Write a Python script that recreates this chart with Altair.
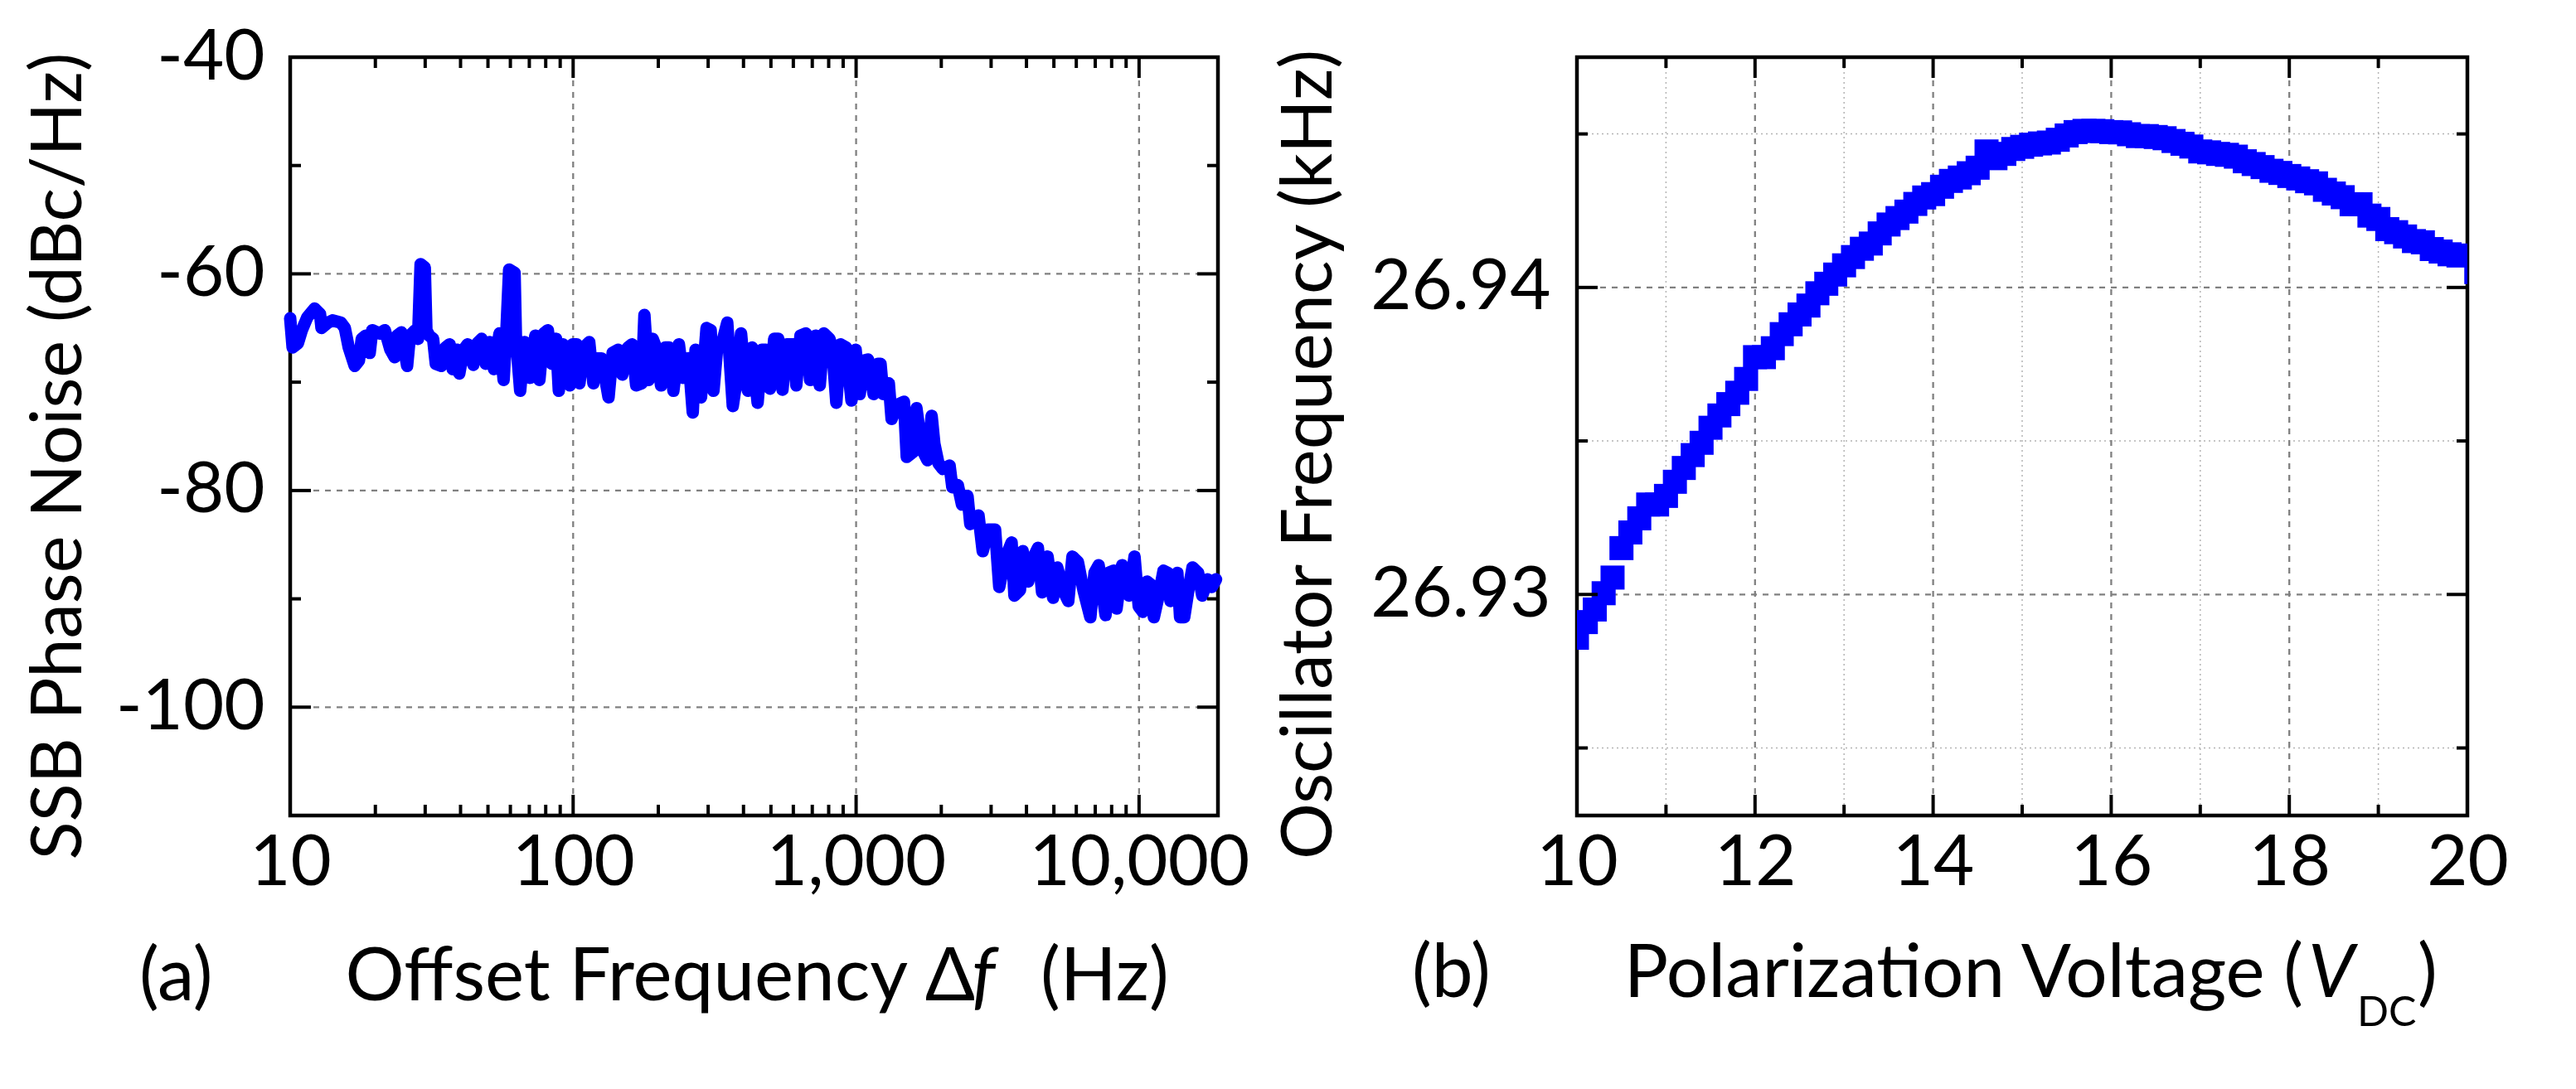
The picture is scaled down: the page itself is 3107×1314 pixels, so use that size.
import pandas as pd
import altair as alt

# (a) phase noise trace
freq_hz = [
    10.0, 10.2, 10.65, 11.0, 11.5, 12.2, 12.75, 12.9, 13.6, 14.1, 15.1, 15.6, 16.1, 16.9, 17.5,
    17.9, 18.5, 19.1, 19.5, 20.7, 21.6, 22.6, 23.4, 23.9, 24.7, 25.9, 26.5, 27.7, 28.3, 28.9,
    29.9, 30.3, 31.0, 32.0, 32.7, 34.2, 35.4, 36.6, 37.5, 38.8, 39.6, 41.0, 42.4, 44.4, 45.9,
    47.5, 49.1, 50.8, 52.5, 54.9, 56.8, 58.1, 59.4, 62.1, 62.8, 65.0, 67.2, 70.3, 73.5, 76.0,
    78.7, 81.4, 84.1, 87.0, 89.0, 92.0, 94.1, 97.4, 99.6, 103.0, 105.3, 109.0, 114.0, 117.9,
    120.5, 126.1,
    133.4, 137.9, 144.3, 149.2, 156.1, 161.5, 167.0, 174.7, 178.6, 184.8, 191.1, 197.6, 204.4,
    211.4, 218.6, 226.1, 236.5, 244.6, 255.9, 264.7, 270.7, 283.1, 296.1, 306.3, 313.3, 324.0,
    335.1, 350.5, 366.6, 379.2, 392.2, 405.6, 414.8, 429.0, 448.7, 464.1, 480.1, 496.5, 513.5,
    531.2, 549.4, 568.2, 600.9, 614.6, 635.7, 664.9, 687.7, 719.3, 743.9, 769.5, 804.9, 823.2,
    851.4, 880.5, 920.9, 963.3, 996.3, 1030, 1066, 1102, 1153, 1193, 1220, 1247, 1290,
    1305, 1335, 1396, 1476, 1510, 1597, 1634, 1709, 1788, 1849, 1891, 1955, 2023, 2140, 2188,
    2288, 2367, 2476, 2532, 2708, 2802, 2931, 3099, 3205, 3352, 3545, 3626, 3794, 3880, 4059,
    4246, 4391, 4542, 4750, 4968, 5138, 5435, 5622, 5814, 6081, 6360, 6504, 6729, 6959, 7198,
    7613, 7786, 8144, 8329, 8711, 8910, 9215, 9638, 9970, 10311, 10665, 11030, 11280, 11800,
    12200, 12620, 12910, 13660, 13960, 14440, 14940, 15450, 16170, 16720, 17480, 18080, 18710,
]
noise_dbc = [
    -64.1, -66.8, -66.4, -65.2, -64.0, -63.2, -63.7, -65.0, -64.5, -64.3, -64.5, -65.0, -66.8,
    -68.5, -68.0, -66.0, -65.7, -67.3, -65.2, -65.5, -65.2, -67.0, -67.7, -65.7, -65.4, -68.5,
    -65.7, -65.2, -66.0, -59.1, -59.4, -65.2, -65.7, -66.0, -68.3, -68.5, -66.8, -66.5, -68.8,
    -67.0, -69.2, -67.0, -66.5, -68.4, -66.4, -66.0, -68.3, -66.3, -68.8, -65.5, -69.8, -65.2,
    -59.6, -59.9, -66.0, -70.8, -66.3, -69.6, -65.7, -69.8, -65.5, -65.2, -68.3, -66.0, -70.8,
    -66.5, -66.8, -70.3, -66.5, -66.5, -70.1, -66.8, -66.3, -70.1, -67.8, -67.8,
    -71.4, -67.3, -67.0, -69.3, -66.8, -66.5, -70.3, -70.1, -63.8, -69.8, -66.0, -67.0, -70.3,
    -66.8, -66.8, -70.8, -66.5, -69.6, -67.8, -72.8, -67.0, -71.4, -65.0, -65.2, -70.8, -66.4,
    -66.5, -64.5, -72.2, -69.6, -65.5, -69.8, -70.8, -66.8, -71.9, -67.0, -67.0, -70.6, -66.0,
    -66.0, -70.7, -66.5, -66.5, -70.3, -65.7, -65.5, -69.8, -65.7, -70.3, -65.5, -66.0, -66.8,
    -71.9, -66.5, -66.8, -71.7, -67.0, -71.1, -68.0, -67.9, -71.1, -68.3, -68.3, -71.1, -70.3,
    -70.1, -73.4, -72.1, -71.8, -76.9, -76.4, -72.4, -76.2, -77.2, -73.1, -75.7, -77.5, -78.0,
    -77.7, -79.7, -79.5, -81.3, -80.5, -83.1, -82.3, -85.6, -83.6, -83.6, -88.9, -86.4, -84.8,
    -89.7, -89.2, -85.6, -88.4, -86.1, -85.3, -89.4, -86.1, -89.9, -87.1, -89.4, -90.2, -86.1,
    -86.6, -89.2, -90.2, -91.7, -87.6, -86.9, -91.5, -87.6, -87.4, -90.9, -86.9, -89.2, -89.7,
    -86.1, -90.7, -91.2, -88.4, -88.7, -91.7, -89.4, -87.4, -87.6, -90.2, -87.6, -91.7, -91.7,
    -89.2, -87.1, -87.6, -89.7, -88.2, -88.9, -88.2,
]

# (b) oscillator frequency vs polarization voltage
volt_dc = [
    10.0, 10.1, 10.2, 10.3, 10.4, 10.5, 10.6, 10.7, 10.8, 10.9, 11.0, 11.1, 11.2, 11.3, 11.4,
    11.5, 11.6, 11.7, 11.8, 11.9, 12.0, 12.1, 12.2, 12.3, 12.4, 12.5, 12.6, 12.7, 12.8, 12.9,
    13.0, 13.1, 13.2, 13.3, 13.4, 13.5, 13.6, 13.7, 13.8, 13.9, 14.0, 14.1, 14.2, 14.3, 14.4,
    14.5, 14.6, 14.7, 14.8, 14.9, 15.0, 15.1, 15.2, 15.3, 15.4, 15.5, 15.6, 15.7, 15.8, 15.9,
    16.0, 16.1, 16.2, 16.3, 16.4, 16.5, 16.6, 16.7, 16.8, 16.9, 17.0, 17.1, 17.2, 17.3, 17.4,
    17.5, 17.6, 17.7, 17.8, 17.9, 18.0, 18.1, 18.2, 18.3, 18.4, 18.5, 18.6, 18.7, 18.8, 18.9,
    19.0, 19.1, 19.2, 19.3, 19.4, 19.5, 19.6, 19.7, 19.8, 19.9, 20.1,
]
osc_khz = [
    26.92859, 26.92910, 26.92951, 26.93004, 26.93055, 26.93151, 26.93202, 26.93248, 26.93293,
    26.93293, 26.93321, 26.93367, 26.93412, 26.93454, 26.93494, 26.93543, 26.93583, 26.93620,
    26.93657, 26.93702, 26.93773, 26.93773, 26.93802, 26.93848, 26.93880, 26.93912, 26.93941,
    26.93981, 26.94012, 26.94042, 26.94072, 26.94099, 26.94126, 26.94143, 26.94176, 26.94205,
    26.94226, 26.94247, 26.94272, 26.94293, 26.94304, 26.94328, 26.94347, 26.94358, 26.94372,
    26.94390, 26.94443, 26.94421, 26.94435, 26.94451, 26.94458,
    26.94465, 26.94469, 26.94472, 26.94481, 26.94495, 26.94506, 26.94510, 26.94510, 26.94509,
    26.94506, 26.94505, 26.94499, 26.94493, 26.94493, 26.94490, 26.94486, 26.94477, 26.94468,
    26.94459, 26.94443, 26.94440, 26.94435, 26.94432, 26.94426, 26.94411, 26.94402, 26.94392,
    26.94380, 26.94373, 26.94363, 26.94355, 26.94346, 26.94339, 26.94318, 26.94306, 26.94294,
    26.94271, 26.94271, 26.94234, 26.94223, 26.94190, 26.94180, 26.94166, 26.94151, 26.94147,
    26.94125, 26.94117, 26.94108, 26.94104, 26.94050,
]

# axis ticks
a_x_major = [10, 100, 1000, 10000]
a_x_minor = [m * d for d in (10, 100, 1000) for m in range(2, 10)]
a_y_major = [-100, -80, -60, -40]
a_y_minor = [-90, -70, -50]
b_x_major = [10, 12, 14, 16, 18, 20]
b_x_minor = [11, 13, 15, 17, 19]
b_y_major = [26.93, 26.94]
b_y_minor = [26.925, 26.935, 26.945]

FONT = 'Lato'
FS = 85      # tick labels, y titles
FT = 89      # x titles
BLUE = '#0000FF'
W_A, W_B, H = 1119, 1074, 915
MAJ, MIN = 25, 13

tick_style = dict(color='black', strokeWidth=4)
major_grid = dict(color='#808080', strokeWidth=2.3, strokeDash=[7, 7])
minor_grid = dict(color='#b4b4b4', strokeWidth=1.5, strokeDash=[2, 4])


def vrules(vals, xenc, y0, y1, style):
    return alt.Chart(pd.DataFrame({'v': vals})).mark_rule(**style).encode(
        x=xenc('v:Q'), y=alt.value(y0), y2=alt.value(y1))


def hrules(vals, yenc, x0, x1, style):
    return alt.Chart(pd.DataFrame({'v': vals})).mark_rule(**style).encode(
        y=yenc('v:Q'), x=alt.value(x0), x2=alt.value(x1))


def label(text, x, y, size=FT, italic=False, align='left'):
    return alt.Chart(alt.Data(values=[{'t': text}])).mark_text(
        font=FONT, fontSize=size, fontStyle='italic' if italic else 'normal',
        align=align, baseline='alphabetic', color='black'
    ).encode(text='t:N', x=alt.value(x), y=alt.value(y))


def frame_ticks(xmaj, xmin, ymaj, ymin, xenc, yenc, w):
    out = []
    for vals, n in ((xmaj, MAJ), (xmin, MIN)):
        out.append(vrules(vals, xenc, H, H - n, tick_style))
        out.append(vrules(vals, xenc, 0, n, tick_style))
    for vals, n in ((ymaj, MAJ), (ymin, MIN)):
        out.append(hrules(vals, yenc, 0, n, tick_style))
        out.append(hrules(vals, yenc, w, w - n, tick_style))
    return out


# ---- panel (a)
ax_a = alt.Axis(values=a_x_major, format=',d', ticks=False, domain=False, grid=False,
                labelPadding=16, labelFlush=False, labelOverlap=False, labelLimit=0,
                title=None)
ay_a = alt.Axis(values=a_y_major, labelExpr="'' + datum.value", ticks=False, domain=False,
                grid=False, labelPadding=31, labelOverlap=False, labelLimit=0,
                title='SSB Phase Noise (dBc/Hz)', titleX=-253, titleY=481,
                titleBaseline='alphabetic')
xs_a = alt.Scale(type='log', domain=[10, 19000], nice=False)
ys_a = alt.Scale(domain=[-110, -40], nice=False, zero=False)


def xa(f):
    return alt.X(f, scale=xs_a, axis=ax_a)


def ya(f):
    return alt.Y(f, scale=ys_a, axis=ay_a)


trace = alt.Chart(pd.DataFrame({'f': freq_hz, 'L': noise_dbc})).mark_line(
    color=BLUE, strokeWidth=15, strokeJoin='round', strokeCap='round'
).encode(x=xa('f:Q'), y=ya('L:Q'))

panel_a = alt.layer(
    vrules([100, 1000, 10000], xa, 0, H, major_grid),
    hrules([-100, -80, -60], ya, 0, W_A, major_grid),
    trace,
    *frame_ticks(a_x_major, a_x_minor, a_y_major, a_y_minor, xa, ya, W_A),
    label('(a)', -182, 1138),
    label('Offset Frequency \u0394', 826, 1138, align='right'),
    label('f', 822, 1138, italic=True),
    label('(Hz)', 905, 1138),
).properties(width=W_A, height=H)

# ---- panel (b)
ax_b = alt.Axis(values=b_x_major, format='d', ticks=False, domain=False, grid=False,
                labelPadding=16, labelFlush=False, labelOverlap=False, labelLimit=0,
                title=None)
ay_b = alt.Axis(values=b_y_major, format='.2f', ticks=False, domain=False, grid=False,
                labelPadding=32, labelOverlap=False, labelLimit=0,
                title='Oscillator Frequency (kHz)', titleX=-297, titleY=479,
                titleBaseline='alphabetic')
xs_b = alt.Scale(domain=[10, 20], nice=False, zero=False)
ys_b = alt.Scale(domain=[26.9228, 26.9475], nice=False, zero=False)


def xb(f):
    return alt.X(f, scale=xs_b, axis=ax_b)


def yb(f):
    return alt.Y(f, scale=ys_b, axis=ay_b)


squares = alt.Chart(pd.DataFrame({'V': volt_dc, 'F': osc_khz})).mark_square(
    size=841, color=BLUE, opacity=1, clip=True
).encode(x=xb('V:Q'), y=yb('F:Q'))

panel_b = alt.layer(
    vrules(b_x_minor, xb, 0, H, minor_grid),
    hrules(b_y_minor, yb, 0, W_B, minor_grid),
    vrules([12, 14, 16, 18], xb, 0, H, major_grid),
    hrules(b_y_major, yb, 0, W_B, major_grid),
    squares,
    *frame_ticks(b_x_major, b_x_minor, b_y_major, b_y_minor, xb, yb, W_B),
    label('(b)', -199, 1134),
    label('Polarization Voltage (', 876, 1134, align='right'),
    label('V', 882, 1134, italic=True),
    label('DC', 941, 1169, size=50),
    label(')', 1014, 1134),
).properties(width=W_B, height=H)

chart = alt.hconcat(panel_a, panel_b, spacing=24).properties(
    padding={'left': 18, 'top': 16, 'right': 5, 'bottom': 5}
).configure_view(
    stroke='black', strokeWidth=4.5
).configure_axis(
    labelFont=FONT, labelFontSize=FS, labelColor='black',
    titleFont=FONT, titleFontSize=FS, titleFontWeight='normal', titleColor='black'
)

chart.save('out.html', embed_options={'renderer': 'svg', 'actions': False})
